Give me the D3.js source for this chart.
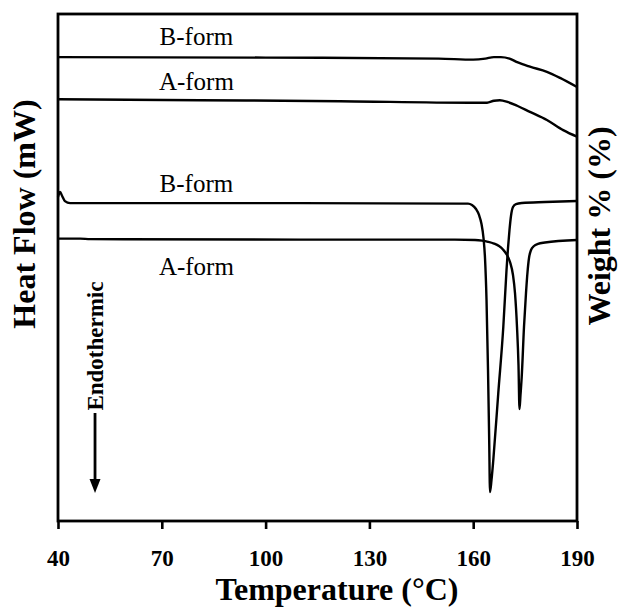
<!DOCTYPE html>
<html>
<head>
<meta charset="utf-8">
<script src="https://cdn.jsdelivr.net/npm/d3@7/dist/d3.min.js"></script>
<style>
  html, body { margin: 0; padding: 0; background: #fff; }
  svg { display: block; font-family: "Liberation Serif", "Times New Roman", serif; }
</style>
</head>
<body>
<svg id="chart" width="620" height="607"></svg>
<script>
// Temperature axis ticks (°C)
const xTicks = [40, 70, 100, 130, 160, 190];

// TGA traces: [temperature °C, stacked signal (a.u.)]
const tgaB = [
  [40, 91.5], [100, 91.4], [150, 91.2], [160, 91.0], [163.5, 91.2], [166, 91.5],
  [168, 91.5], [170.5, 91.2], [172.7, 90.5], [176.4, 89.6], [181.3, 88.6],
  [185.1, 87.4], [190, 85.6]
];
const tgaA = [
  [40, 83.2], [81, 83.0], [121.5, 82.8], [159, 82.5], [164, 82.5], [166, 82.9],
  [167.7, 83.0], [170.1, 82.6], [172.7, 81.9], [176.4, 80.7], [181.3, 79.1],
  [186.0, 77.1], [190, 75.8]
];

// DSC traces: [temperature °C, stacked signal (a.u.)]
const dscB = [
  [40.0, 63.9], [40.6, 64.9], [41.2, 64.1], [42.0, 63.1], [43.5, 62.7], [110, 62.7],
  [156.2, 62.6], [158.5, 62.6], [159.65, 62.33], [160.81, 61.54], [161.68, 60.36],
  [162.40, 58.58], [162.98, 55.82], [163.41, 51.87], [163.85, 43.59], [164.28, 29.78],
  [164.62, 15.98], [164.86, 5.72], [165.29, 8.09], [165.81, 12.03], [167.25, 25.25],
  [168.70, 38.26], [169.63, 49.51], [170.06, 53.85], [170.49, 57.40], [170.92, 60.16],
  [171.50, 61.93], [172.37, 62.52], [174.11, 62.72], [180.75, 62.92], [190.0, 63.12]
];
const dscA = [
  [40.0, 55.7], [46.4, 55.7], [49.3, 55.6], [110, 55.5], [154.7, 55.5], [160.52, 55.42],
  [162.54, 55.29], [164.28, 55.07], [166.01, 54.73], [167.46, 54.24], [168.61, 53.55],
  [169.77, 52.47], [170.64, 51.08], [171.50, 48.52], [172.08, 44.97], [172.66, 38.26],
  [173.09, 30.77], [173.38, 22.09], [173.67, 24.85], [174.02, 28.40], [174.68, 38.26],
  [175.26, 44.97], [175.70, 49.11], [176.13, 51.87], [176.71, 53.45], [177.57, 54.24],
  [178.73, 54.67], [180.75, 54.93], [190.0, 55.42]
];

// Trace labels and where they sit (temperature, signal at text baseline)
const labelTexts = ["B-form", "A-form", "B-form", "A-form"];
const labelT = [80, 80, 80, 80];
const labelV = [93.9, 85.0, 64.9, 48.5];

// Endothermic direction arrow (temperature, start signal, end signal)
const arrowT = 50.7;
const arrowV = [21.3, 5.5];

const svg = d3.select("#chart");
const plot = { left: 58, right: 577, top: 14, bottom: 521 };

const x = d3.scaleLinear().domain([40, 190]).range([plot.left, plot.right]);
const y = d3.scaleLinear().domain([0, 100]).range([plot.bottom, plot.top]);

svg.append("rect").attr("width", 620).attr("height", 607).attr("fill", "#fff");

// traces
const line = d3.line()
  .x(d => x(d[0]))
  .y(d => y(d[1]))
  .curve(d3.curveMonotoneX);

[tgaB, tgaA, dscB, dscA].forEach(series => {
  svg.append("path")
    .datum(series)
    .attr("d", line)
    .attr("fill", "none")
    .attr("stroke", "#000")
    .attr("stroke-width", 2.4)
    .attr("stroke-linejoin", "round");
});

// plot frame
svg.append("rect")
  .attr("x", plot.left).attr("y", plot.top)
  .attr("width", plot.right - plot.left)
  .attr("height", plot.bottom - plot.top)
  .attr("fill", "none")
  .attr("stroke", "#000")
  .attr("stroke-width", 2.8);

// temperature axis
const xAxis = svg.append("g")
  .attr("transform", `translate(0,${plot.bottom})`)
  .call(d3.axisBottom(x).tickValues(xTicks).tickSize(8).tickSizeOuter(0)
    .tickPadding(21).tickFormat(d3.format("d")));
xAxis.select(".domain").remove();
xAxis.selectAll(".tick line").attr("stroke", "#000").attr("stroke-width", 2.6);
xAxis.selectAll(".tick text")
  .attr("fill", "#000")
  .style("font-family", "'Liberation Serif', 'Times New Roman', serif")
  .style("font-size", "23px")
  .style("font-weight", "bold");

// axis titles
svg.append("text")
  .attr("x", 337).attr("y", 600)
  .attr("text-anchor", "middle")
  .style("font-size", "32px").style("font-weight", "bold")
  .text("Temperature (°C)");

svg.append("text")
  .attr("transform", "translate(35,214) rotate(-90)")
  .attr("text-anchor", "middle")
  .style("font-size", "32px").style("font-weight", "bold")
  .text("Heat Flow (mW)");

svg.append("text")
  .attr("transform", "translate(610,226) rotate(-90)")
  .attr("text-anchor", "middle")
  .style("font-size", "32px").style("font-weight", "bold")
  .text("Weight % (%)");

// trace labels
labelTexts.forEach((t, i) => {
  svg.append("text")
    .attr("x", x(labelT[i])).attr("y", y(labelV[i]))
    .attr("text-anchor", "middle")
    .style("font-size", "25px")
    .text(t);
});

// endothermic arrow
const ax = x(arrowT);
const y0 = y(arrowV[0]), y1 = y(arrowV[1]);
svg.append("line")
  .attr("x1", ax).attr("x2", ax)
  .attr("y1", y0).attr("y2", y1 - 12)
  .attr("stroke", "#000").attr("stroke-width", 2.8);
svg.append("path")
  .attr("d", d3.line()([[ax - 5.5, y1 - 14], [ax + 5.5, y1 - 14], [ax, y1]]) + "Z")
  .attr("fill", "#000");

svg.append("text")
  .attr("transform", `translate(${ax + 8},${(y(34.5))}) rotate(-90)`)
  .attr("text-anchor", "middle")
  .style("font-size", "23px").style("font-weight", "bold")
  .text("Endothermic");
</script>
</body>
</html>
